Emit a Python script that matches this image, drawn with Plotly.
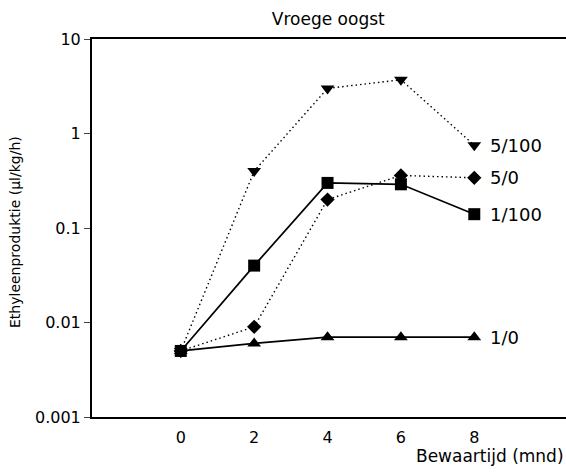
import math
import plotly.graph_objects as go

months = [0, 2, 4, 6, 8]
s_5_100 = [0.005, 0.4, 3.0, 3.7, 0.75]
s_5_0 = [0.005, 0.009, 0.2, 0.36, 0.34]
s_1_100 = [0.005, 0.04, 0.3, 0.29, 0.14]
s_1_0 = [0.005, 0.006, 0.007, 0.007, 0.007]
series_names = ["5/100", "5/0", "1/0", "1/100"]
y_ticks = [0.001, 0.01, 0.1, 1, 10]
y_tick_labels = ["0.001", "0.01", "0.1", "1", "10"]
x_ticks = [0, 2, 4, 6, 8]

FONT = "DejaVu Sans, Liberation Sans, Arial, sans-serif"

styles = [
    (s_5_100, "triangle-down", "1.5px,3px", 1.4, 12),
    (s_5_0, "diamond", "1.5px,3px", 1.4, 11),
    (s_1_0, "triangle-up", "solid", 1.7, 12),
    (s_1_100, "square", "solid", 1.7, 12),
]

fig = go.Figure()
for name, (vals, sym, dash, lw, size) in zip(series_names, styles):
    fig.add_trace(go.Scatter(
        x=months, y=vals, mode="lines+markers", name=name,
        line=dict(color="black", width=lw, dash=dash),
        marker=dict(symbol=sym, size=size, color="black"),
        showlegend=False, cliponaxis=False, hoverinfo="skip",
    ))
    fig.add_annotation(x=months[-1], y=math.log10(vals[-1]),
                       text=name, showarrow=False, xanchor="left", xshift=14,
                       font=dict(size=18, color="black", family=FONT))

fig.update_layout(
    width=566, height=473,
    margin=dict(l=92, r=0, t=39, b=56, autoexpand=False),
    plot_bgcolor="white", paper_bgcolor="white",
    font=dict(family=FONT, color="black", size=16),
    title=dict(text="Vroege oogst", x=0.58, xanchor="center", y=1 - 19 / 473, yanchor="middle",
               font=dict(size=17, family=FONT)),
)
fig.update_xaxes(
    range=[-2.42, 10.5], tickvals=x_ticks, ticktext=[str(v) for v in x_ticks],
    showline=True, linecolor="black", linewidth=2, mirror=True,
    showgrid=False, zeroline=False, ticks="outside", ticklen=5, tickcolor="rgba(0,0,0,0)",
    automargin=False,
)
fig.update_yaxes(
    type="log", range=[-3, 1], tickvals=y_ticks, ticktext=y_tick_labels,
    showline=True, linecolor="black", linewidth=2,
    showgrid=False, zeroline=False, ticks="outside", ticklen=6, tickwidth=1,
    automargin=False,
)
fig.add_annotation(x=-(92 - 15) / 474, xref="paper", xanchor="center",
                   y=1 - (232 - 39) / 378, yref="paper", yanchor="middle",
                   text="Ethyleenproduktie (\u00b5l/kg/h)",
                   showarrow=False, textangle=-90, font=dict(size=14, family=FONT))
fig.add_annotation(x=1, xref="paper", y=-(456 - 417) / 378, yref="paper", text="Bewaartijd (mnd)",
                   showarrow=False, xanchor="right", yanchor="middle", font=dict(size=17, family=FONT))

fig.write_html(
    "out.html",
    config={"displayModeBar": False},
    post_script="document.body.style.margin='0';document.body.style.overflow='hidden';",
)
